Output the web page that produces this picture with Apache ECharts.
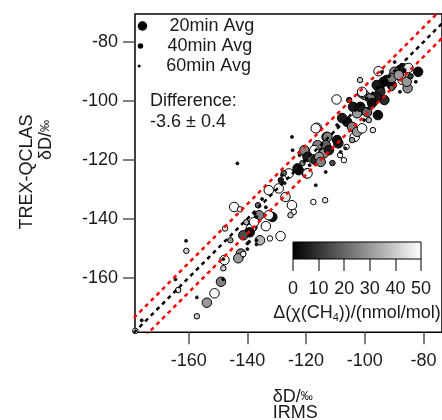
<!DOCTYPE html>
<html><head><meta charset="utf-8">
<script src="https://cdn.jsdelivr.net/npm/echarts@6/dist/echarts.min.js"></script>
<style>html,body{margin:0;padding:0;background:#fff}#c{width:442px;height:420px}</style>
</head><body><div id="c"></div>
<script>
const xTicks = [-160, -140, -120, -100, -80];
const yTicks = [-160, -140, -120, -100, -80];
const cbTicks = [0, 10, 20, 30, 40, 50];
const seriesNames = ['20min Avg', '40min Avg', '60min Avg'];
// [IRMS, TREX-QCLAS, Δχ(CH4)]
const avg20 = [
[-81.8,-90.1,2],[-88.0,-89.5,3],[-86.8,-88.9,5],[-95.3,-89.9,50],[-89.9,-90.1,25],[-85.4,-95.7,28],[-87.1,-92.9,48],[-109.6,-99.5,50],[-116.3,-109.1,50],[-101.2,-103.1,25],[-95.5,-104.8,3],[-104.0,-102.0,5],[-100.0,-98.0,30],[-95.0,-95.7,5],[-93.3,-99.7,8],[-103.4,-112.2,50],[-113.0,-112.2,2],[-109.0,-114.4,5],[-119.7,-117.8,25],[-116.9,-117.8,48],[-115.2,-115.6,3],[-122.5,-123.5,3],[-119.7,-124.6,25],[-125.9,-124.6,50],[-132.7,-130.3,50],[-129.3,-129.7,50],[-127.0,-132.6,45],[-124.8,-135.4,50],[-144.5,-136.0,50],[-100.9,-97.4,25],[-102.6,-104.2,30],[-101.5,-102.0,5],[-106.0,-107.1,3],[-104.3,-108.8,25],[-102.6,-110.5,30],[-100.9,-109.3,50],[-109.4,-113.3,3],[-112.7,-112.2,25],[-113.3,-115.0,20],[-116.7,-109.3,50],[-116.1,-115.0,25],[-113.9,-117.8,30],[-112.2,-116.7,5],[-120.6,-116.7,25],[-119.5,-119.0,5],[-117.8,-119.5,20],[-116.7,-120.1,8],[-117.2,-116.7,50],[-115.5,-119.0,30],[-115.0,-120.7,25],[-122.9,-122.9,2],[-119.5,-124.6,50],[-93.6,-93.5,3],[-92.5,-92.9,2],[-95.9,-94.6,5],[-94.7,-96.9,8],[-90.8,-94.6,3],[-85.7,-93.5,30],[-100.9,-96.9,50],[-95.9,-98.6,5],[-98.1,-99.1,25],[-90.8,-92.2,25],[-88.4,-91.2,30],[-97.5,-100.7,3],[-85.1,-88.8,45],[-99.2,-103.8,20],[-107.7,-105.8,5],[-131.5,-139.4,3],[-138.3,-142.8,5],[-132.7,-138.8,50],[-136.0,-138.8,25],[-138.8,-143.3,50],[-133.7,-142.5,50],[-128.7,-145.9,50],[-137.7,-141.1,50],[-139.2,-144.6,2],[-142.2,-151.8,25],[-143.1,-153.4,30],[-147.8,-154.0,50],[-149.0,-161.4,25],[-151.2,-165.3,50],[-153.8,-168.5,30],[-141.4,-145.6,15],[-135.7,-147.3,35]
];
const avg40 = [
[-142.5,-136.8,50],[-147.6,-143.3,45],[-141.4,-152.0,50],[-160.8,-150.9,40],[-163.6,-164.2,45],[-157.2,-173.1,40],[-178.2,-178.1,50],[-132.3,-146.7,50],[-108.4,-118.4,50],[-97.2,-109.9,45],[-117.5,-134.3,50],[-113.5,-133.7,45],[-107.1,-120.1,50],[-106.2,-115.6,50],[-124.2,-137.7,50],[-125.3,-138.8,40],[-127.6,-124.5,20],[-128.6,-126.9,5],[-90.8,-95.6,20],[-84.4,-91.6,10],[-98.6,-106.5,35],[-104.3,-113.3,30],[-111.0,-121.1,15],[-121.2,-121.1,25],[-136.4,-135.4,20],[-140.4,-141.2,35],[-145.8,-147.3,30],[-148.2,-156.8,40],[-105.3,-99.7,10],[-101.6,-92.9,40]
];
const avg60 = [
[-82.6,-93.5,3],[-88.0,-96.9,5],[-124.8,-112.2,2],[-143.4,-121.2,4],[-128.2,-125.2,6],[-124.6,-116.7,3],[-108.2,-117.3,5],[-106.6,-116.1,8],[-113.3,-124.1,2],[-116.7,-128.6,6],[-137.5,-138.2,4],[-136.9,-139.4,3],[-140.3,-143.9,5],[-136.9,-147.3,2],[-136.9,-148.7,6],[-140.0,-148.4,4],[-140.0,-150.3,3],[-160.9,-147.5,5],[-164.5,-160.6,4],[-148.2,-160.5,2],[-157.2,-166.7,6],[-176.0,-174.5,3],[-139.4,-147.8,5],[-89.8,-86.8,2],[-86.4,-89.5,4],[-94.2,-90.2,3],[-98.6,-102.4,6],[-101.9,-101.4,2],[-109.4,-108.2,5],[-100.2,-106.5,3],[-122.2,-118.4,4],[-118.8,-121.8,2],[-127.3,-127.9,5],[-133.7,-136.1,3],[-135.0,-133.3,4],[-148.2,-153.7,6]
];
const lineOffsets = [0, 5, -5];
const differenceText = ['Difference:', '-3.6 \u00b1 0.4'];

const FONT = "'Liberation Sans', Arial, Helvetica, sans-serif";
const FS = 18;
const TXT = '#1a1a1a';
const xMin = -178.3, xMax = -73.66, yMin = -178.55, yMax = -70.48;
const lineX = [xMin - 10, xMax + 10];
function diag(off) { return lineX.map(x => [x, x + off]); }

const chart = echarts.init(document.getElementById('c'), null, {renderer: 'canvas'});
const sizes = [9.5, 5.5, 3];
const datas = [avg20, avg40, avg60];
const legendTops = [17, 37, 57];

const option = {
  animation: false,
  grid: [
    {left: 135, top: 14, width: 310, height: 318.3, show: true, borderColor: '#000', borderWidth: 1.5},
    {left: 293, top: 242, width: 128, height: 17, show: false}
  ],
  xAxis: [
    {gridIndex: 0, type: 'value', min: xMin, max: xMax, axisLine: {show: false}, splitLine: {show: false},
     axisTick: {show: true, customValues: xTicks, length: 12, lineStyle: {color: '#555', width: 1.5}},
     axisLabel: {customValues: xTicks, margin: 20, fontSize: FS, color: TXT, fontFamily: FONT}},
    {gridIndex: 1, type: 'value', min: cbTicks[0], max: cbTicks[cbTicks.length - 1], interval: 10,
     axisLine: {show: false}, splitLine: {show: false},
     axisTick: {show: true, length: 12, lineStyle: {color: '#555', width: 1.5}},
     axisLabel: {margin: 21, fontSize: FS, color: TXT, fontFamily: FONT}}
  ],
  yAxis: [
    {gridIndex: 0, type: 'value', min: yMin, max: yMax, axisLine: {show: false}, splitLine: {show: false},
     axisTick: {show: true, customValues: yTicks, length: 12, lineStyle: {color: '#555', width: 1.5}},
     axisLabel: {customValues: yTicks, margin: 17, fontSize: FS, color: TXT, fontFamily: FONT}},
    {gridIndex: 1, type: 'value', min: 0, max: 1, show: false}
  ],
  visualMap: {show: false, type: 'continuous', seriesIndex: [0, 1, 2], dimension: 2, min: 0, max: 50,
    inRange: {color: ['#000000', '#ffffff']}},
  legend: seriesNames.map((n, i) => ({
    data: [{name: n, icon: 'circle', itemStyle: {color: '#000', borderWidth: 0}}],
    left: 137.7, top: legendTops[i], padding: 0, itemWidth: 44, itemHeight: sizes[i],
    selectedMode: false, textStyle: {fontSize: FS, fontFamily: FONT, color: TXT}
  })),
  series: [
    ...seriesNames.map((n, i) => ({
      type: 'scatter', name: n, data: datas[i], symbol: 'circle', symbolSize: sizes[i],
      xAxisIndex: 0, yAxisIndex: 0, z: 2 + i,
      itemStyle: {borderColor: '#000', borderWidth: i === 2 ? 0.8 : 1, opacity: 1},
      emphasis: {disabled: true}
    })),
    ...lineOffsets.map((off, i) => ({
      type: 'line', data: diag(off), symbol: 'none', silent: true, clip: true, z: 10,
      xAxisIndex: 0, yAxisIndex: 0,
      lineStyle: {color: off === 0 ? '#000' : '#ff0000', width: 2.5, type: [4, 4]}
    }))
  ]
};
chart.setOption(option);

const p0 = chart.convertToPixel({xAxisIndex: 1, yAxisIndex: 1}, [cbTicks[0], 1]);
const p1 = chart.convertToPixel({xAxisIndex: 1, yAxisIndex: 1}, [cbTicks[cbTicks.length - 1], 0]);

chart.setOption({
  graphic: [
    {type: 'rect', shape: {x: p0[0], y: p0[1], width: p1[0] - p0[0], height: p1[1] - p0[1]},
     style: {fill: new echarts.graphic.LinearGradient(0, 0, 1, 0, [{offset: 0, color: '#000'}, {offset: 1, color: '#fff'}]),
             stroke: '#000', lineWidth: 1}, z: 100},
    {type: 'text', x: 150, y: 101, style: {text: differenceText[0], fontSize: FS, fontFamily: FONT, fill: TXT, textAlign: 'left', textVerticalAlign: 'middle', align: 'left', verticalAlign: 'middle'}},
    {type: 'text', x: 150, y: 122, style: {text: differenceText[1], fontSize: FS, fontFamily: FONT, fill: TXT, textAlign: 'left', textVerticalAlign: 'middle', align: 'left', verticalAlign: 'middle'}},
    {type: 'text', x: 27, y: 172, rotation: Math.PI / 2, style: {text: 'TREX-QCLAS', fontSize: FS, fontFamily: FONT, fill: TXT, textAlign: 'center', textVerticalAlign: 'middle', align: 'center', verticalAlign: 'middle'}},
    {type: 'text', x: 46, y: 140, rotation: Math.PI / 2, style: {text: '{a|\u03b4D/}{b|\u2030}', rich: {a: {fontSize: FS, fontFamily: FONT, fill: TXT, lineHeight: 18}, b: {fontSize: 12, fontFamily: FONT, fill: TXT, lineHeight: 18}}, textAlign: 'center', textVerticalAlign: 'middle', align: 'center', verticalAlign: 'middle'}},
    {type: 'text', x: 272.7, y: 397, style: {text: '{a|\u03b4D/}{b|\u2030}', rich: {a: {fontSize: FS, fontFamily: FONT, fill: TXT, lineHeight: 18}, b: {fontSize: 12, fontFamily: FONT, fill: TXT, lineHeight: 18}}, textAlign: 'left', textVerticalAlign: 'middle', align: 'left', verticalAlign: 'middle'}},
    {type: 'text', x: 272.7, y: 413, style: {text: 'IRMS', fontSize: FS, fontFamily: FONT, fill: TXT, textAlign: 'left', textVerticalAlign: 'middle', align: 'left', verticalAlign: 'middle'}},
    {type: 'text', x: 357, y: 313, style: {text: '{a|\u0394(\u03c7(CH}{s|4}{a|))/(nmol/mol)}', rich: {a: {fontSize: FS, fontFamily: FONT, fill: TXT, lineHeight: 20, verticalAlign: 'middle'}, s: {fontSize: 11, fontFamily: FONT, fill: TXT, lineHeight: 20, verticalAlign: 'bottom'}}, textAlign: 'center', textVerticalAlign: 'middle', align: 'center', verticalAlign: 'middle'}}
  ]
});
</script></body></html>
